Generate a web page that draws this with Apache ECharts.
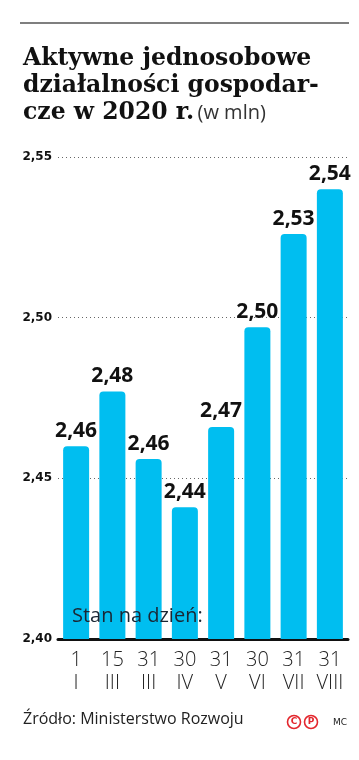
<!DOCTYPE html>
<html><head><meta charset="utf-8">
<script src="https://cdn.jsdelivr.net/npm/echarts@6/dist/echarts.min.js"></script>
<style>html,body{margin:0;padding:0;background:#fff}#c{width:359px;height:760px}</style>
</head><body><div id="c"></div>
<script>
const categories = ['1\nI', '15\nIII', '31\nIII', '30\nIV', '31\nV', '30\nVI', '31\nVII', '31\nVIII'];
const values = [2.460, 2.477, 2.456, 2.441, 2.466, 2.497, 2.526, 2.540];
const valueLabels = ['2,46', '2,48', '2,46', '2,44', '2,47', '2,50', '2,53', '2,54'];
const yMin = 2.40, yMax = 2.55, yStep = 0.05;

const chart = echarts.init(document.getElementById('c'), null, {renderer: 'canvas'});
chart.setOption({
  animation: false,
  backgroundColor: '#fff',
  grid: {left: 58, right: 11, top: 157, bottom: 121, containLabel: false},
  xAxis: {
    type: 'category', data: categories,
    axisLine: {show: true, lineStyle: {color: '#111', width: 3}},
    axisTick: {show: false},
    axisLabel: {color: '#222', fontFamily: 'Open Sans', fontWeight: 300, fontSize: 20, lineHeight: 23, margin: 10, interval: 0}
  },
  yAxis: {
    type: 'value', min: yMin, max: yMax, interval: yStep,
    axisLine: {show: false}, axisTick: {show: false},
    splitLine: {show: true, lineStyle: {color: '#666', type: [1, 3], width: 1}},
    axisLabel: {color: '#111', fontFamily: 'DejaVu Sans', fontWeight: 'bold', fontSize: 12, margin: 6,
      formatter: v => v.toFixed(2).replace('.', ',')}
  },
  series: [{
    type: 'bar', data: values, barWidth: 26,
    itemStyle: {color: '#00bef0', borderRadius: [4, 4, 0, 0]},
    label: {show: true, position: 'top', distance: 5, color: '#111', fontFamily: 'Open Sans', fontWeight: 'bold', fontSize: 21,
      formatter: p => valueLabels[p.dataIndex]}
  }],
  graphic: [
    {type: 'line', shape: {x1: 20, y1: 23, x2: 349, y2: 23}, style: {stroke: '#555', lineWidth: 1.5}},
    {type: 'text', left: 23, top: 47, style: {text: 'Aktywne jednosobowe', font: 'bold 23.5px "DejaVu Serif"', fill: '#111'}},
    {type: 'text', left: 23, top: 74, style: {text: 'działalności gospodar-', font: 'bold 23.5px "DejaVu Serif"', fill: '#111'}},
    {type: 'text', left: 23, top: 101, style: {rich: {a: {font: 'bold 23.5px "DejaVu Serif"', fill: '#111'}, b: {font: '20px "Open Sans"', fill: '#333'}}, text: '{a|cze w 2020 r.} {b|(w mln)}'}},
    {type: 'text', z: 100, left: 72, top: 606, style: {text: 'Stan na dzień:', font: '20px "Open Sans"', fill: '#1a2633'}},
    {type: 'text', left: 23, top: 711, style: {text: 'Źródło: Ministerstwo Rozwoju', font: '16px "Open Sans"', fill: '#222'}},
    {type: 'circle', shape: {cx: 294, cy: 722, r: 6.5}, style: {fill: 'none', stroke: '#e3262d', lineWidth: 1.6}},
    {type: 'circle', shape: {cx: 311, cy: 722, r: 6.5}, style: {fill: 'none', stroke: '#e3262d', lineWidth: 1.6}},
    {type: 'text', x: 294, y: 722, style: {text: 'C', font: 'bold 9px "DejaVu Sans"', fill: '#e3262d', align: 'center', verticalAlign: 'middle'}},
    {type: 'text', x: 311, y: 722, style: {text: 'P', font: 'bold 9px "DejaVu Sans"', fill: '#e3262d', align: 'center', verticalAlign: 'middle'}},
    {type: 'text', left: 333, top: 718, style: {text: 'MC', font: '9px "DejaVu Sans"', fill: '#222'}}
  ]
});
</script></body></html>
